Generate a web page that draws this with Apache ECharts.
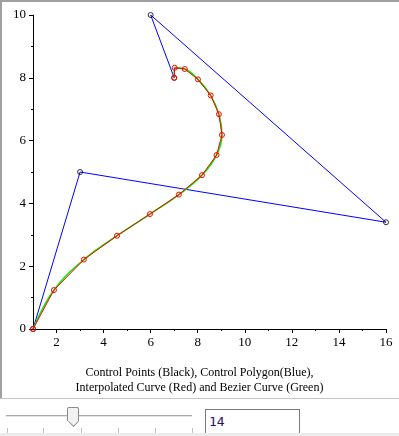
<!DOCTYPE html>
<html>
<head>
<meta charset="utf-8">
<script src="https://cdn.jsdelivr.net/npm/echarts@6/dist/echarts.min.js"></script>
<style>
  html, body { margin: 0; padding: 0; background: #fff; }
  #wrap { position: relative; width: 399px; height: 436px; overflow: hidden; }
  #chart { position: absolute; left: 0; top: 0; width: 399px; height: 398px; }
  .frameTop { position: absolute; left: 0; top: 0; width: 399px; height: 2px; background: #a0a0a0; }
  .frameLeft { position: absolute; left: 0; top: 0; width: 2px; height: 398px; background: #a0a0a0; }
  .frameBottom { position: absolute; left: 0; top: 398px; width: 399px; height: 1px; background: #c4c4c4; }
  .track { position: absolute; left: 6px; top: 415px; width: 186px; height: 1px; background: #a8a8a8; border-bottom: 1px solid #e4e4e4; }
  .thumb { position: absolute; left: 67px; top: 407px; width: 10px; height: 13px; background: #f2f2f2; border: 1px solid #8a8a8a; border-bottom: none; border-radius: 2px 2px 0 0; }
  .thumbTip { position: absolute; left: 67px; top: 419px; width: 8px; height: 8px; background: #f2f2f2; border-right: 1px solid #8a8a8a; border-bottom: 1px solid #8a8a8a; transform: translate(2px, -2px) rotate(45deg) scale(0.85); }
  .tick { position: absolute; top: 428px; width: 1px; height: 5px; background: #c0c0c0; }
  .box { position: absolute; left: 205px; top: 409px; border: 1px solid #7a7a7a; background: #fff; font-family: "DejaVu Sans Mono", monospace; font-size: 13px; line-height: 23px; color: #2a1060; padding-left: 3px; box-sizing: border-box; width: 95px; height: 25px; }
  .strip { position: absolute; left: 0; top: 433px; width: 399px; height: 3px; background: #ececec; }
</style>
</head>
<body>
<div id="wrap">
  <div id="chart"></div>
  <div class="frameTop"></div>
  <div class="frameLeft"></div>
  <div class="frameBottom"></div>
  <div class="track"></div>
  <div class="tick" style="left:7px"></div>
  <div class="tick" style="left:43px"></div>
  <div class="tick" style="left:81px"></div>
  <div class="tick" style="left:118px"></div>
  <div class="tick" style="left:155px"></div>
  <div class="tick" style="left:192px"></div>
  <div class="thumbTip"></div>
  <div class="thumb"></div>
  <div class="box">14</div>
  <div class="strip"></div>
</div>
<script>
// control points (x, y)
const controlX = [1, 3, 16, 6, 7]
const controlY = [0, 5, 3.4, 10, 8]

// interpolated points
const curveX = [1, 1.89, 3.16, 4.57, 5.97, 7.2, 8.18, 8.8, 9.03, 8.9, 8.55, 8.01, 7.45, 7.02, 7]
const curveY = [0, 1.24, 2.21, 2.97, 3.66, 4.28, 4.9, 5.54, 6.18, 6.84, 7.44, 7.95, 8.28, 8.32, 8]

const xMajorTicks = [2, 4, 6, 8, 10, 12, 14, 16]
const xMinorTicks = [3, 5, 7, 9, 11, 13, 15]

const captionLines = [
  'Control Points (Black), Control Polygon(Blue),',
  'Interpolated Curve (Red) and Bezier Curve (Green)'
]

const pairs = (xs, ys) => xs.map((x, i) => [x, ys[i]])
const serif = '"Liberation Serif", "DejaVu Serif", serif'

const chart = echarts.init(document.getElementById('chart'))
chart.setOption({
  animation: false,
  backgroundColor: '#fff',
  title: {
    text: captionLines.join('\n'),
    left: 'center',
    top: 360,
    textStyle: { fontFamily: serif, fontSize: 12, fontWeight: 'normal', color: '#000', lineHeight: 15 }
  },
  grid: { left: 33, right: 13, top: 15, bottom: 69 },
  xAxis: [
    {
      type: 'value',
      min: 1,
      max: 16,
      axisLine: { lineStyle: { color: '#000', width: 1 } },
      axisTick: { customValues: xMajorTicks, length: 4, lineStyle: { color: '#000' } },
      axisLabel: { customValues: xMajorTicks, margin: 7, color: '#000', fontFamily: serif, fontSize: 13 },
      splitLine: { show: false }
    },
    {
      type: 'value',
      min: 1,
      max: 16,
      position: 'bottom',
      axisLine: { show: false },
      axisTick: { customValues: xMinorTicks, length: 2, lineStyle: { color: '#000' } },
      axisLabel: { show: false },
      splitLine: { show: false }
    }
  ],
  yAxis: {
    type: 'value',
    min: 0,
    max: 10,
    interval: 2,
    axisLine: { show: true, lineStyle: { color: '#000', width: 1 } },
    axisTick: { show: true, length: 4, lineStyle: { color: '#000' } },
    minorTick: { show: true, splitNumber: 2, length: 2, lineStyle: { color: '#000' } },
    axisLabel: { margin: 7, color: '#000', fontFamily: serif, fontSize: 13 },
    splitLine: { show: false }
  },
  series: [
    {
      // control polygon
      type: 'line',
      data: pairs(controlX, controlY),
      showSymbol: false,
      lineStyle: { color: '#0000ff', width: 1 },
      z: 1
    },
    {
      // control points
      type: 'scatter',
      data: pairs(controlX, controlY),
      symbol: 'circle',
      symbolSize: 5,
      itemStyle: { color: 'transparent', borderColor: '#000', borderWidth: 1 },
      z: 2
    },
    {
      // bezier curve
      type: 'line',
      data: pairs(curveX, curveY),
      smooth: 0.4,
      showSymbol: false,
      lineStyle: { color: '#00ee00', width: 1.5 },
      z: 3
    },
    {
      // interpolated curve
      type: 'line',
      data: pairs(curveX, curveY),
      symbol: 'circle',
      symbolSize: 5,
      itemStyle: { color: 'transparent', borderColor: '#ff0000', borderWidth: 1 },
      lineStyle: { color: '#ff0000', width: 1 },
      z: 4
    }
  ]
})
</script>
</body>
</html>
